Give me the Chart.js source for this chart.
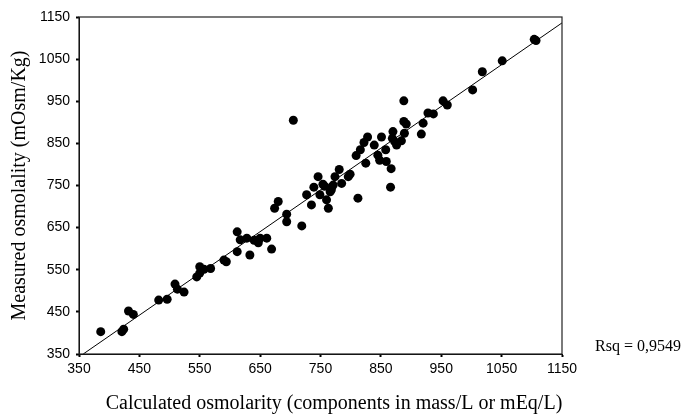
<!DOCTYPE html>
<html>
<head>
<meta charset="utf-8">
<script src="https://cdn.jsdelivr.net/npm/chart.js@4/dist/chart.umd.min.js"></script>
<style>
  html, body { margin: 0; padding: 0; background: #fff; }
  #wrap { width: 683px; height: 419px; position: relative; }
</style>
</head>
<body>
<div id="wrap"><canvas id="osmcanvas" width="683" height="419"></canvas></div>
<script>
// calculated osmolarity (x) and measured osmolality (y), one entry per sample
var calcX = [386,421,424,432,440,482,496,509,513,524,545,550,550,557,568,590,594,612,633,612,617,628,640,650,661,647,669,674,680,694,694,719,705,
  727,735,739,746,749,754,760,766,763,771,774,781,785,796,799,812,768,757,
  809,816,828,825,839,845,851,848,859,858,867,870,873,876,884,889,888,892,866,888,917,920,928,937,953,960,1002,1018,1051,1107,1104,822,869];
var measY = [403,403,409,452,444,478,480,516,504,497,533,542,557,551,553,573,569,593,585,640,621,625,620,625,625,614,599,696,712,682,664,654,905,
  728,704,746,771,728,753,716,735,696,751,771,788,755,771,777,720,740,748,
  821,835,865,803,846,822,865,810,807,835,790,878,854,846,856,874,902,896,746,951,872,898,922,920,951,941,977,1020,1046,1094,1097,852,862];

// fitted line end points
var fitX = [357, 1150];
var fitY = [350, 1136];

var tickValues = [350,450,550,650,750,850,950,1050,1150];
var rsqLabel = 'Rsq = 0,9549';
var xTitle = 'Calculated osmolarity (components in mass/L or mEq/L)';

var points = [];
for (var i in calcX) {
  points.push({x: calcX[i], y: measY[i]});
}
var fitLine = [];
for (var j in fitX) {
  fitLine.push({x: fitX[j], y: fitY[j]});
}

var serif = '"Liberation Serif", "Times New Roman", serif';

// box round the plot area, x title and Rsq text
var frame = {
  id: 'frame',
  afterDraw: function(chart) {
    var a = chart.chartArea;
    var ctx = chart.ctx;
    ctx.save();
    ctx.strokeStyle = '#222';
    ctx.lineWidth = 1.2;
    ctx.strokeRect(a.left, a.top, a.right - a.left, a.bottom - a.top);
    ctx.fillStyle = '#000';
    ctx.textBaseline = 'middle';
    ctx.font = '16px ' + serif;
    ctx.fillText(rsqLabel, 595, 347);
    ctx.font = '20px ' + serif;
    ctx.textAlign = 'center';
    ctx.fillText(xTitle, 334, 404);
    ctx.restore();
  }
};

var tickFont = { family: '"Liberation Sans Narrow", "Arial Narrow", "Liberation Sans", sans-serif', size: 14 };

var ctx = document.getElementById('osmcanvas');
var chart = new Chart(ctx, {
  type: 'scatter',
  data: {
    datasets: [
      {
        label: 'Samples',
        data: points,
        backgroundColor: '#000',
        borderColor: '#000',
        pointRadius: 4.5,
        borderWidth: 0
      },
      {
        label: 'Fit',
        type: 'line',
        data: fitLine,
        borderColor: '#000',
        borderWidth: 1,
        pointRadius: 0,
        fill: false
      }
    ]
  },
  options: {
    responsive: false,
    animation: false,
    events: [],
    layout: { padding: { left: 0, right: 121, top: 17, bottom: 0 } },
    plugins: {
      legend: { display: false },
      tooltip: { enabled: false }
    },
    scales: {
      x: {
        type: 'linear',
        min: 350,
        max: 1150,
        afterFit: function(s) { s.height = 65; },
        afterBuildTicks: function(s) {
          s.ticks = tickValues.map(function(v) { return {value: v}; });
        },
        ticks: {
          color: '#000', font: tickFont, padding: 4, maxRotation: 0, autoSkip: false,
          callback: function(v) { return String(v); }
        },
        grid: { drawOnChartArea: false, drawTicks: true, tickLength: 3, tickWidth: 2, color: '#000' },
        border: { display: true, color: '#000', width: 1 }
      },
      y: {
        type: 'linear',
        min: 350,
        max: 1150,
        afterFit: function(s) { s.width = 79; },
        afterBuildTicks: function(s) {
          s.ticks = tickValues.map(function(v) { return {value: v}; });
        },
        ticks: {
          color: '#000', font: tickFont, padding: 6, autoSkip: false,
          callback: function(v) { return String(v); }
        },
        grid: { drawOnChartArea: false, drawTicks: true, tickLength: 3, tickWidth: 2, color: '#000' },
        border: { display: true, color: '#000', width: 1 },
        title: {
          display: true,
          text: 'Measured osmolality (mOsm/Kg)',
          color: '#000',
          font: { family: serif, size: 20 },
          padding: { top: 8, bottom: 0 }
        }
      }
    }
  },
  plugins: [frame]
});
</script>
</body>
</html>
